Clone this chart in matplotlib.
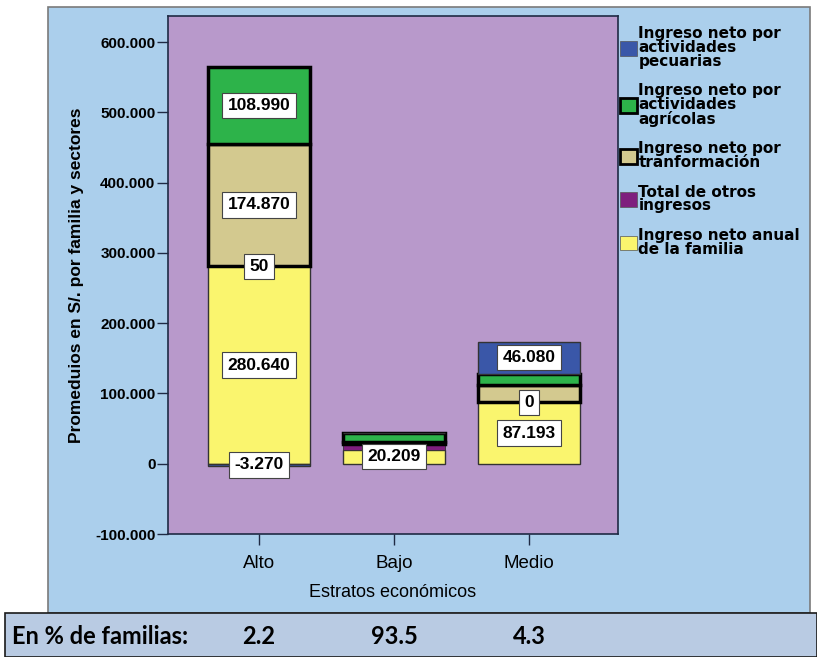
import numpy as np
import matplotlib.pyplot as plt
from matplotlib.patches import Rectangle
from matplotlib.transforms import blended_transform_factory

# data (soles) per estrato
estratos = ["Alto", "Bajo", "Medio"]
anual = [280640, 20209, 87193]
otros = [50, 7500, 0]
transformacion = [174870, 3500, 25500]
agricolas = [108990, 12500, 15000]
pecuarias = [-3270, 0, 46080]
pct_familias = ["2.2", "93.5", "4.3"]

# which segment labels SPSS shows
show_anual = [True, True, True]
show_otros = [True, False, True]
show_transf = [True, False, False]
show_agric = [True, False, False]
show_pecua = [True, False, True]

def fmt(v):
    return f"{v:,.0f}".replace(",", ".")

plt.rcParams['font.family'] = ['Liberation Sans', 'DejaVu Sans']

fig = plt.figure(figsize=(8.17, 6.57), dpi=100, facecolor="white")
W, H = 817.0, 657.0

# outer chart frame + bottom band
fig.patches.append(Rectangle((48 / W, 1 - 613 / H), (810 - 48) / W, (613 - 7) / H,
                             transform=fig.transFigure, facecolor="#abcfec",
                             edgecolor="#7a7a7a", lw=1.2, zorder=0))
fig.patches.append(Rectangle((5 / W, 0), (817 - 5) / W, (657 - 613) / H,
                             transform=fig.transFigure, facecolor="#b9cbe3",
                             edgecolor="#1a1a1a", lw=1.2, zorder=0))

ax = fig.add_axes([168 / W, 1 - 534 / H, (618 - 168) / W, (534 - 16) / H])
ax.set_zorder(3)
ax.set_facecolor("#b899cb")

x = np.arange(len(estratos))
w = 0.76

cols = {"anual": "#faf56e", "otros": "#7e1f7e", "transf": "#d3c98f",
        "agric": "#2db34a", "pecua": "#3a57a8"}

bottom = np.zeros(3)
segments = [
    (anual, cols["anual"], "#333333", 1.0, show_anual),
    (otros, cols["otros"], "#333333", 0.6, show_otros),
    (transformacion, cols["transf"], "black", 2.5, show_transf),
    (agricolas, cols["agric"], "black", 2.5, show_agric),
]
label_pos = []
for vals, c, ec, lw, show in segments:
    vals = np.array(vals, dtype=float)
    ax.bar(x, vals, w, bottom=bottom, color=c, edgecolor=ec, linewidth=lw, zorder=2)
    for i in range(3):
        if show[i]:
            label_pos.append((x[i], bottom[i] + vals[i] / 2, vals[i]))
    bottom = bottom + vals

# pecuarias: negative values go below zero
pec = np.array(pecuarias, dtype=float)
pb = np.where(pec >= 0, bottom, 0)
ax.bar(x, pec, w, bottom=pb, color=cols["pecua"], edgecolor="#333333", linewidth=1.0, zorder=2)
for i in range(3):
    if show_pecua[i]:
        label_pos.append((x[i], pb[i] + pec[i] / 2, pec[i]))

for xi, yi, v in label_pos:
    ax.text(xi, yi, fmt(v), ha="center", va="center", fontsize=12.5, fontweight="bold",
            zorder=5, bbox=dict(boxstyle="square,pad=0.3", fc="white", ec="#444444", lw=0.8))

ax.set_xlim(-0.674, 2.66)
ax.set_ylim(-100000, 637000)
ax.set_yticks(np.arange(-100000, 600001, 100000))
ax.set_yticklabels([fmt(v) for v in np.arange(-100000, 600001, 100000)],
                   fontsize=11, fontweight="bold")
ax.set_xticks(x)
ax.set_xticklabels(estratos, fontsize=13.5)
ax.tick_params(direction="out", length=8, color="#1f2a44", width=1)
ax.tick_params(axis="y", pad=1)
ax.tick_params(axis="x", pad=7)
for s in ax.spines.values():
    s.set_color("#1f2a44")
    s.set_linewidth(1.2)

ax.set_xlabel("Estratos económicos", fontsize=13, labelpad=9)
ax.set_ylabel("Promeduios en S/. por familia y sectores", fontsize=12.5, fontweight="bold",
              labelpad=8)

# legend
handles = [
    Rectangle((0, 0), 1, 1, fc=cols["pecua"], ec="#555555", lw=0.5),
    Rectangle((0, 0), 1, 1, fc=cols["agric"], ec="black", lw=2),
    Rectangle((0, 0), 1, 1, fc=cols["transf"], ec="black", lw=2),
    Rectangle((0, 0), 1, 1, fc=cols["otros"], ec="#555555", lw=0.5),
    Rectangle((0, 0), 1, 1, fc=cols["anual"], ec="#555555", lw=0.5),
]
labels = ["Ingreso neto por\nactividades\npecuarias",
          "Ingreso neto por\nactividades\nagrícolas",
          "Ingreso neto por\ntranformación",
          "Total de otros\ningresos",
          "Ingreso neto anual\nde la familia"]
leg = fig.legend(handles, labels, loc="upper left", bbox_to_anchor=(614 / W, 1 - 20 / H),
                 frameon=False, prop=dict(size=11, weight="bold", family="DejaVu Sans"),
                 handlelength=1.1, handleheight=1.1, handletextpad=0.1,
                 labelspacing=0.95, borderaxespad=0)
for t in leg.get_texts():
    t.set_linespacing(0.9)

# % de familias band
fig.text(12 / W, 1 - 637 / H, "En % de familias:", fontsize=17, fontweight="bold",
         family=['Lato', 'DejaVu Sans'], va="center", ha="left")
tr = blended_transform_factory(ax.transData, fig.transFigure)
for xi, p in zip(x, pct_familias):
    fig.text(xi, 1 - 637 / H, p, transform=tr, fontsize=17, fontweight="bold",
             family=['Lato', 'DejaVu Sans'], va="center", ha="center")

fig.savefig("out.png", dpi=100, facecolor="white")
